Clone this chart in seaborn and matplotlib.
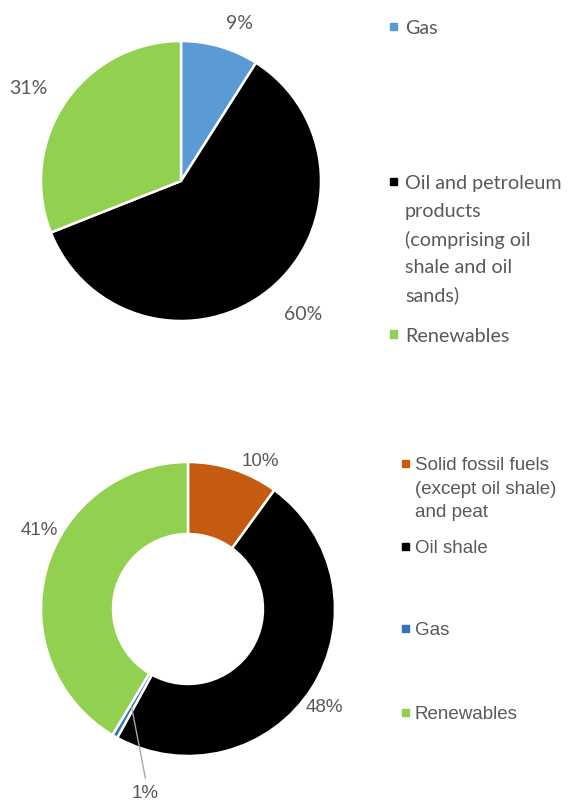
import numpy as np
import matplotlib
matplotlib.use("Agg")
import matplotlib.pyplot as plt
import seaborn as sns
from matplotlib.patches import Rectangle


TOP_LABELS = [
    "Gas",
    "Oil and petroleum\nproducts\n(comprising oil\nshale and oil\nsands)",
    "Renewables",
]
TOP_VALUES = [9, 60, 31]
TOP_COLORS = ["#5B9BD5", "#000000", "#92D050"]

BOTTOM_LABELS = [
    "Solid fossil fuels\n(except oil shale)\nand peat",
    "Oil shale",
    "Gas",
    "Renewables",
]
BOTTOM_VALUES = [10, 48, 0.6, 41.4]
BOTTOM_COLORS = ["#C55A11", "#000000", "#2E75B6", "#92D050"]

TEXT_GRAY = "#595959"
W, H = 576, 804
TOP_FONT = ["Lato", "DejaVu Sans"]
BOTTOM_FONT = ["Liberation Sans", "DejaVu Sans"]


def px_axes(fig, cx, cy, r):
    # square axes centred on (cx, cy) in image pixels
    return fig.add_axes([(cx - r) / W, 1 - (cy + r) / H, 2 * r / W, 2 * r / H])


def legend_entry(fig, mx, tx, y, text, color, family, size, pitch):
    fig.patches.append(Rectangle(((mx - 3.5) / W, 1 - (y + 3.5) / H), 7 / W, 7 / H,
                                 transform=fig.transFigure, color=color))
    # one text per line so the marker sits on the first line
    for i, line in enumerate(text.split("\n")):
        fig.text(tx / W, 1 - (y + i * pitch) / H, line, va="center_baseline", ha="left",
                 color=TEXT_GRAY, family=family, fontsize=size)


def place_labels(texts, positions):
    for t, (x, y) in zip(texts, positions):
        t.set_position((x, y))
        t.set_ha("center")
        t.set_va("center")


sns.set_theme(style="white")
plt.rcParams["font.family"] = ["Lato", "DejaVu Sans"]

fig = plt.figure(figsize=(W / 100, H / 100), dpi=100)

# top pie
ax1 = px_axes(fig, 181, 182, 140)
wedges, _, pcts = ax1.pie(
    TOP_VALUES, colors=TOP_COLORS, startangle=90, counterclock=False,
    wedgeprops=dict(edgecolor="white", linewidth=1.8),
    autopct=lambda p: f"{p:.0f}%",
    textprops=dict(color=TEXT_GRAY, family=TOP_FONT, fontsize=14),
)
ax1.set_xlim(-1, 1)
ax1.set_ylim(-1, 1)
place_labels(pcts, [(0.42, 1.13), (0.87, -0.95), (-1.09, 0.67)])

# bottom doughnut
ax2 = px_axes(fig, 188, 610, 147)
wedges2, _, pcts2 = ax2.pie(
    BOTTOM_VALUES, colors=BOTTOM_COLORS, startangle=90, counterclock=False,
    wedgeprops=dict(edgecolor="white", linewidth=1.8, width=0.49),
    autopct=lambda p: f"{p:.0f}%",
    textprops=dict(color=TEXT_GRAY, family=BOTTOM_FONT, fontsize=13.5),
)
ax2.set_xlim(-1, 1)
ax2.set_ylim(-1, 1)
label_pos = [(0.49, 1.01), (0.93, -0.66), (-0.29, -1.25), (-1.01, 0.54)]
place_labels(pcts2, label_pos)

# leader line for the thin gas slice
g = wedges2[2]
theta = np.deg2rad((g.theta1 + g.theta2) / 2)
lx, ly = label_pos[2]
ax2.plot([0.77 * np.cos(theta), lx], [0.77 * np.sin(theta), ly + 0.1],
         color="#A6A6A6", lw=1, clip_on=False)

# legends
top_y = [27, 182, 335]
for lab, col, y in zip(TOP_LABELS, TOP_COLORS, top_y):
    legend_entry(fig, 393, 405, y, lab, col, TOP_FONT, 14.2, 28)

bottom_y = [464, 547, 629, 713]
for lab, col, y in zip(BOTTOM_LABELS, BOTTOM_COLORS, bottom_y):
    legend_entry(fig, 405, 415, y, lab, col, BOTTOM_FONT, 13.5, 23.5)

fig.savefig("out.png", dpi=100)
